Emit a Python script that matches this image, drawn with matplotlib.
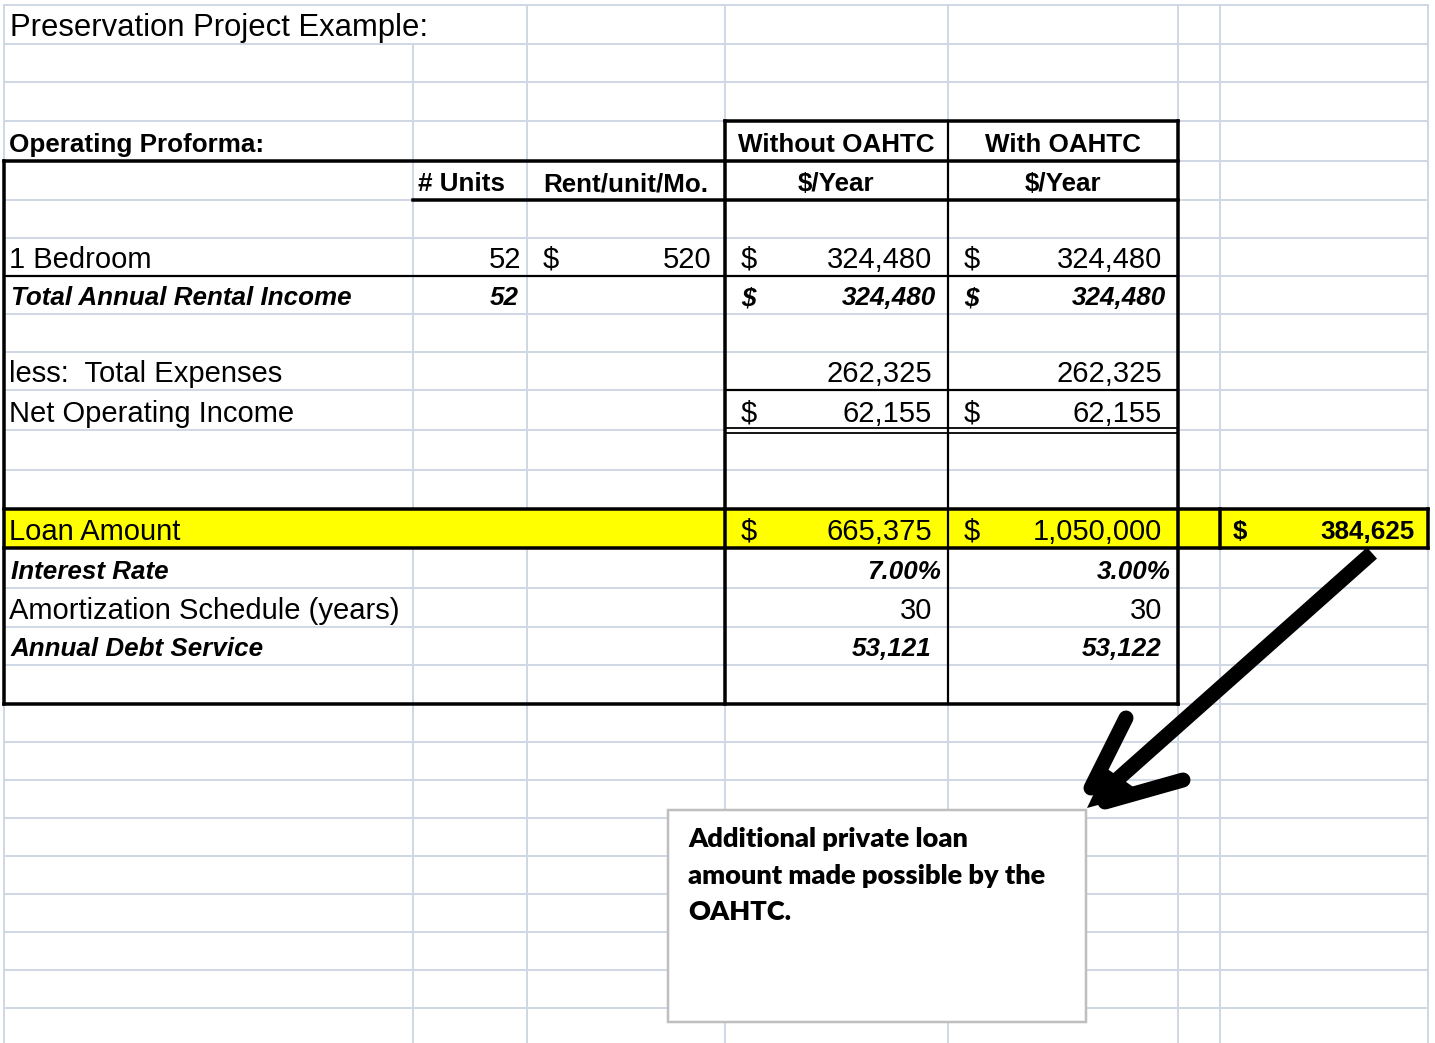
import matplotlib.pyplot as plt
from matplotlib.patches import Rectangle, Polygon

# proforma values
title = "Preservation Project Example:"
section = "Operating Proforma:"
scenarios = ["Without OAHTC", "With OAHTC"]
unit_type = "1 Bedroom"
units = 52
rent_per_unit = 520
rental_income = [324480, 324480]
total_expenses = [262325, 262325]
net_operating_income = [62155, 62155]
loan_amount = [665375, 1050000]
interest_rate = [7.00, 3.00]
amortization_years = [30, 30]
annual_debt_service = [53121, 53122]
additional_loan = 384625
note_lines = ["Additional private loan", "amount made possible by the", "OAHTC."]

# sheet layout in pixels
W, H = 1435, 1043
col_edges = [4, 413, 527, 725, 948, 1178, 1220, 1428]
row_edges = [5, 44, 82, 121, 161, 200, 238, 276, 314, 352, 390, 430, 470, 509,
             548, 588, 627, 665, 704, 742, 780, 818, 856, 894, 932, 970, 1008]
GRID = '#D0D7E5'
FONT = 'Liberation Sans'
REG = 21
BLD = 18.7

fig = plt.figure(figsize=(W / 100, H / 100), dpi=100)
ax = fig.add_axes([0, 0, 1, 1])
ax.set_xlim(0, W)
ax.set_ylim(H, 0)
ax.axis('off')


def px(v):
    return v * 0.72


# light gridlines
for y in row_edges:
    ax.plot([col_edges[0], col_edges[-1]], [y, y], color=GRID, lw=px(2), zorder=1)
for x in col_edges:
    top = row_edges[1] if x == 413 else row_edges[0]  # title overflows into column B
    ax.plot([x, x], [top, H], color=GRID, lw=px(2), zorder=1)

# yellow loan row
ax.add_patch(Rectangle((col_edges[0], row_edges[13]), col_edges[-1] - col_edges[0],
                       row_edges[14] - row_edges[13], fc='#FFFF00', ec='none', zorder=2))

c, r = col_edges, row_edges
# the double rule under NOI hides the gridline between its two strokes
ax.plot([c[3], c[5]], [r[11], r[11]], color='white', lw=px(3), zorder=2)

# black cell borders
thick, medium, thin = px(3.5), px(2.2), px(1.8)
borders = [
    ((c[3], r[3]), (c[5], r[3]), thick),
    ((c[0], r[4]), (c[5], r[4]), thick),
    ((c[1], r[5]), (c[5], r[5]), thick),
    ((c[0], r[7]), (c[5], r[7]), medium),
    ((c[3], r[10]), (c[5], r[10]), medium),
    ((c[3], r[11] - 2.5), (c[5], r[11] - 2.5), thin),
    ((c[3], r[11] + 2.5), (c[5], r[11] + 2.5), thin),
    ((c[0], r[13]), (c[7], r[13]), thick),
    ((c[0], r[14]), (c[7], r[14]), thick),
    ((c[0], r[18]), (c[5], r[18]), thick),
    ((c[0], r[4]), (c[0], r[18]), thick),
    ((c[3], r[3]), (c[3], r[18]), thick),
    ((c[4], r[3]), (c[4], r[18]), medium),
    ((c[5], r[3]), (c[5], r[18]), thick),
    ((c[6], r[13]), (c[6], r[14]), thick),
    ((c[7], r[13]), (c[7], r[14]), thick),
]
for (x0, y0), (x1, y1), lw in borders:
    ax.plot([x0, x1], [y0, y1], color='black', lw=lw, zorder=3, solid_capstyle='projecting')


def put(x, row, s, ha='left', bold=False, italic=False, size=None):
    if size is None:
        size = BLD if bold else REG
    y = row_edges[row + 1] - (9 if bold else 8)
    ax.text(x, y, s, ha=ha, va='baseline', fontsize=size, family=FONT,
            fontweight='bold' if bold else 'normal',
            fontstyle='italic' if italic else 'normal', zorder=5)


put(10, 0, title, size=22.3)
put(9, 3, section, bold=True)
put(418, 4, "# Units", bold=True)
put((c[2] + c[3]) / 2, 4, "Rent/unit/Mo.", ha='center', bold=True)

put(9, 6, unit_type)
put(c[2] - 6, 6, f"{units}", ha='right')
put(c[2] + 16, 6, "$")
put(c[3] - 14, 6, f"{rent_per_unit:,}", ha='right')

put(11, 7, "Total Annual Rental Income", bold=True, italic=True)
put(c[2] - 8, 7, f"{units}", ha='right', bold=True, italic=True)

put(9, 9, "less:  Total Expenses")
put(9, 10, "Net Operating Income")
put(9, 13, "Loan Amount")
put(11, 14, "Interest Rate", bold=True, italic=True)
put(9, 15, "Amortization Schedule (years)")
put(11, 16, "Annual Debt Service", bold=True, italic=True)

for i, name in enumerate(scenarios):
    left, right = c[3 + i], c[4 + i]
    mid = (left + right) / 2
    put(mid, 3, name, ha='center', bold=True)
    put(mid, 4, "$/Year", ha='center', bold=True)

    put(left + 16, 6, "$")
    put(right - 16, 6, f"{rental_income[i]:,}", ha='right')
    put(left + 16, 7, "$", bold=True, italic=True)
    put(right - 12, 7, f"{rental_income[i]:,}", ha='right', bold=True, italic=True)
    put(right - 16, 9, f"{total_expenses[i]:,}", ha='right')
    put(left + 16, 10, "$")
    put(right - 16, 10, f"{net_operating_income[i]:,}", ha='right')
    put(left + 16, 13, "$")
    put(right - 16, 13, f"{loan_amount[i]:,}", ha='right')
    put(right - 7, 14, f"{interest_rate[i]:.2f}%", ha='right', bold=True, italic=True)
    put(right - 16, 15, f"{amortization_years[i]}", ha='right')
    put(right - 16, 16, f"{annual_debt_service[i]:,}", ha='right', bold=True, italic=True)

put(c[6] + 13, 13, "$", bold=True)
put(c[7] - 13, 13, f"{additional_loan:,}", ha='right', bold=True)

# callout box
ax.add_patch(Rectangle((668, 810), 418, 212, fc='white', ec='#BFBFBF', lw=px(2.5), zorder=4))
for k, line in enumerate(note_lines):
    ax.text(688, 847 + 36.5 * k, line, ha='left', va='baseline', fontsize=19.5,
            family='Lato', fontweight='heavy', zorder=5)

# arrow from the extra loan amount to the note
tip = (1087, 808)
arrow_kw = dict(color='black', lw=px(15), zorder=6)
ax.plot([1372, tip[0] + 14], [553, tip[1] - 14], solid_capstyle='butt', **arrow_kw)
ax.plot([1126, tip[0] + 4], [718, tip[1] - 20], solid_capstyle='round', **arrow_kw)
ax.plot([1183, tip[0] + 18], [780, tip[1] - 6], solid_capstyle='round', **arrow_kw)
ax.add_patch(Polygon([tip, (1106, 768), (1142, 793)], closed=True, fc='black', ec='none', zorder=6))

fig.savefig('out.png', dpi=100)
